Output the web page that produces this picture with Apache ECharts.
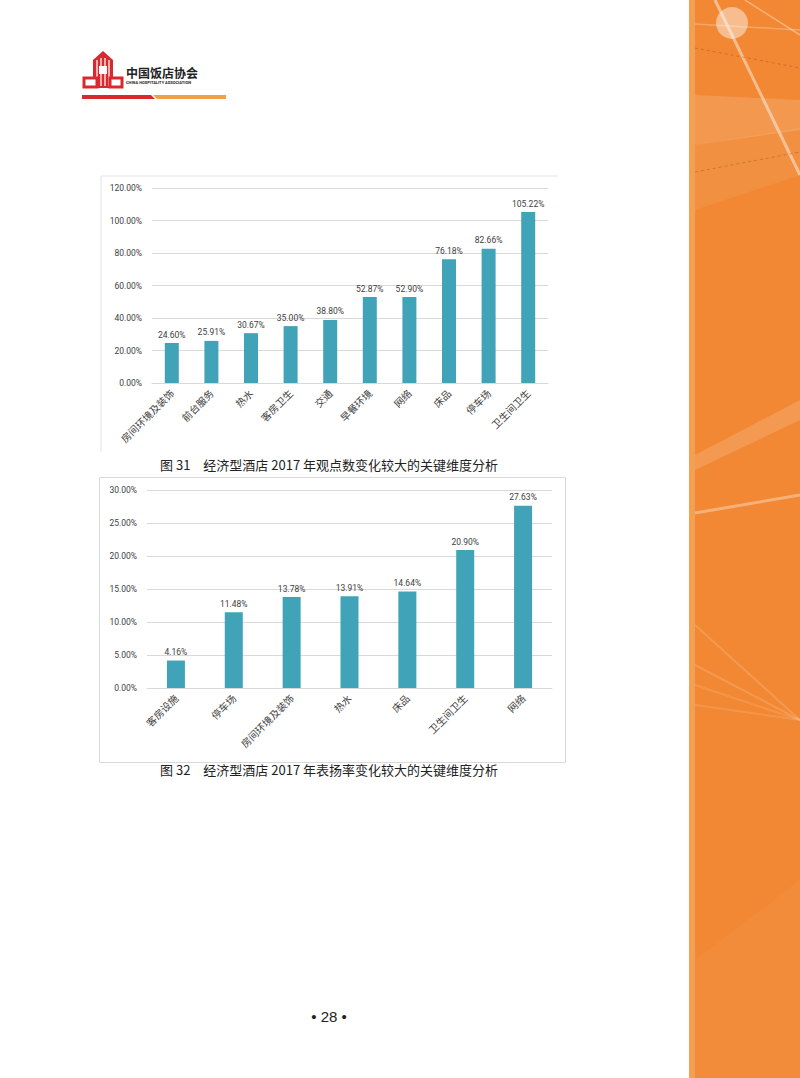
<!DOCTYPE html>
<html>
<head>
<meta charset="utf-8">
<script src="https://cdn.jsdelivr.net/npm/echarts@6/dist/echarts.min.js"></script>
<style>
  html, body { margin: 0; padding: 0; background: #fff; }
  #page { width: 800px; height: 1078px; }
</style>
</head>
<body>
<div id="page"></div>
<script>
// 图 31 数据
var cats31 = ['房间环境及装饰', '前台服务', '热水', '客房卫生', '交通', '早餐环境', '网络', '床品', '停车场', '卫生间卫生'];
var vals31 = [24.60, 25.91, 30.67, 35.00, 38.80, 52.87, 52.90, 76.18, 82.66, 105.22];
var yMax31 = 120, yStep31 = 20;

// 图 32 数据
var cats32 = ['客房设施', '停车场', '房间环境及装饰', '热水', '床品', '卫生间卫生', '网络'];
var vals32 = [4.16, 11.48, 13.78, 13.91, 14.64, 20.90, 27.63];
var yMax32 = 30, yStep32 = 5;

var caption31 = '图 31　经济型酒店 2017 年观点数变化较大的关键维度分析';
var caption32 = '图 32　经济型酒店 2017 年表扬率变化较大的关键维度分析';

var barColor = '#41a3b8';
var textColor = '#404040';
var gridColor = '#d9d9d9';
var cjk = '"Noto Sans CJK SC", "Noto Sans", sans-serif';

function pct(v) { return v.toFixed(2) + '%'; }

function yAxisOf(idx, max, step) {
  return {
    type: 'value', gridIndex: idx, min: 0, max: max, interval: step,
    axisLine: { show: false }, axisTick: { show: false },
    splitLine: { lineStyle: { color: gridColor, width: 1 } },
    axisLabel: { formatter: pct, color: textColor, fontSize: 8.5, fontFamily: 'Roboto, sans-serif', margin: 10 }
  };
}

function xAxisOf(idx, cats) {
  return {
    type: 'category', gridIndex: idx, data: cats,
    axisLine: { lineStyle: { color: gridColor } }, axisTick: { show: false },
    axisLabel: { rotate: 45, interval: 0, color: textColor, fontSize: 10, fontFamily: cjk, margin: 8 }
  };
}

function barsOf(idx, vals, w) {
  return {
    type: 'bar', xAxisIndex: idx, yAxisIndex: idx, data: vals, barWidth: w,
    itemStyle: { color: barColor },
    label: { show: true, position: 'top', formatter: function (p) { return pct(p.value); },
      color: textColor, fontSize: 8.5, fontFamily: 'Roboto, sans-serif', distance: 4 },
    silent: true
  };
}

// 页面装饰：页眉标志、右侧橙色条、图框、图题、页码
var decor = [
  // 右侧橙色条
  { type: 'rect', shape: { x: 689, y: 0, width: 111, height: 1078 }, style: { fill: '#f3a052' } },
  { type: 'rect', shape: { x: 695, y: 0, width: 105, height: 1078 }, style: { fill: '#f28833' } },
  { type: 'polygon', shape: { points: [[695, 95], [800, 100], [800, 130], [695, 145]] }, style: { fill: 'rgba(255,255,255,0.14)' } },
  { type: 'polygon', shape: { points: [[695, 145], [800, 128], [800, 175], [695, 210]] }, style: { fill: 'rgba(255,255,255,0.07)' } },
  { type: 'polygon', shape: { points: [[695, 455], [800, 400], [800, 420], [695, 470]] }, style: { fill: 'rgba(255,255,255,0.15)' } },
  { type: 'polygon', shape: { points: [[695, 960], [800, 880], [800, 1078], [695, 1078]] }, style: { fill: 'rgba(255,255,255,0.04)' } },
  { type: 'line', shape: { x1: 715, y1: 0, x2: 800, y2: 175 }, style: { stroke: 'rgba(255,255,255,0.45)', lineWidth: 3 } },
  { type: 'line', shape: { x1: 745, y1: 0, x2: 800, y2: 35 }, style: { stroke: 'rgba(255,255,255,0.35)', lineWidth: 1.5 } },
  { type: 'line', shape: { x1: 695, y1: 24, x2: 800, y2: 30 }, style: { stroke: 'rgba(255,255,255,0.25)', lineWidth: 1.5 } },
  { type: 'line', shape: { x1: 695, y1: 513, x2: 800, y2: 495 }, style: { stroke: 'rgba(255,255,255,0.35)', lineWidth: 3 } },
  { type: 'line', shape: { x1: 695, y1: 48, x2: 800, y2: 68 }, style: { stroke: 'rgba(120,60,20,0.4)', lineWidth: 0.8, lineDash: [3, 3] } },
  { type: 'line', shape: { x1: 695, y1: 172, x2: 800, y2: 152 }, style: { stroke: 'rgba(120,60,20,0.4)', lineWidth: 0.8, lineDash: [3, 3] } },
  { type: 'line', shape: { x1: 695, y1: 625, x2: 800, y2: 720 }, style: { stroke: 'rgba(255,255,255,0.15)', lineWidth: 2 } },
  { type: 'line', shape: { x1: 695, y1: 665, x2: 800, y2: 720 }, style: { stroke: 'rgba(255,255,255,0.15)', lineWidth: 2 } },
  { type: 'line', shape: { x1: 695, y1: 685, x2: 800, y2: 720 }, style: { stroke: 'rgba(255,255,255,0.12)', lineWidth: 2 } },
  { type: 'line', shape: { x1: 695, y1: 705, x2: 800, y2: 720 }, style: { stroke: 'rgba(255,255,255,0.12)', lineWidth: 2 } },
  { type: 'circle', shape: { cx: 732, cy: 23, r: 16 }, style: { fill: 'rgba(255,255,255,0.45)' } },

  // 页眉标志：楼形 + CHA
  { type: 'polygon', shape: { points: [[93, 60], [103, 51], [113, 60], [113, 88], [93, 88]] }, style: { fill: '#d9282f' } },
  { type: 'rect', shape: { x: 96, y: 60, width: 2, height: 26 }, style: { fill: '#f7b0b0' } },
  { type: 'rect', shape: { x: 100, y: 58, width: 2, height: 28 }, style: { fill: '#f7b0b0' } },
  { type: 'rect', shape: { x: 104, y: 58, width: 2, height: 28 }, style: { fill: '#f7b0b0' } },
  { type: 'rect', shape: { x: 108, y: 60, width: 2, height: 26 }, style: { fill: '#f7b0b0' } },
  { type: 'rect', shape: { x: 99, y: 66, width: 8, height: 8 }, style: { fill: '#fff' } },
  { type: 'rect', shape: { x: 84, y: 78, width: 13, height: 9 }, style: { fill: '#fff', stroke: '#d9282f', lineWidth: 3 } },
  { type: 'rect', shape: { x: 110, y: 78, width: 12, height: 9 }, style: { fill: '#fff', stroke: '#d9282f', lineWidth: 3 } },
  { type: 'text', x: 126, y: 66, style: { text: '中国饭店协会', fill: '#222', fontSize: 12, fontWeight: 'bold', fontFamily: cjk } },
  { type: 'text', x: 126, y: 80, style: { text: 'CHINA HOSPITALITY ASSOCIATION', fill: '#222', fontSize: 4, fontWeight: 'bold', fontFamily: 'Roboto, sans-serif' } },
  { type: 'polygon', shape: { points: [[82, 95], [151, 95], [155, 99], [82, 99]] }, style: { fill: '#d9282f' } },
  { type: 'polygon', shape: { points: [[153, 95], [226, 95], [226, 99], [157, 99]] }, style: { fill: '#f0a046' } },

  // 图框
  { type: 'polyline', shape: { points: [[101, 452], [101, 176], [558, 176]] }, style: { stroke: '#e3e3e3', lineWidth: 1, fill: 'none' } },
  { type: 'rect', shape: { x: 99.5, y: 477.5, width: 466, height: 285 }, style: { stroke: '#d9d9d9', lineWidth: 1, fill: 'none' } },

  // 图题
  { type: 'text', x: 160, y: 458, style: { text: caption31, fill: '#222', fontSize: 13, fontFamily: cjk } },
  { type: 'text', x: 160, y: 763, style: { text: caption32, fill: '#222', fontSize: 13, fontFamily: cjk } },

  // 页码
  { type: 'text', x: 329, y: 1016, style: { text: '• 28 •', fill: '#222', fontSize: 15, fontFamily: 'Liberation Sans, sans-serif', align: 'center', verticalAlign: 'middle' } }
];

var chart = echarts.init(document.getElementById('page'), null, { renderer: 'svg', width: 800, height: 1078 });

chart.setOption({
  animation: false,
  backgroundColor: '#fff',
  grid: [
    { left: 152, top: 188, width: 396, height: 195 },
    { left: 147, top: 490, width: 405, height: 198 }
  ],
  xAxis: [xAxisOf(0, cats31), xAxisOf(1, cats32)],
  yAxis: [yAxisOf(0, yMax31, yStep31), yAxisOf(1, yMax32, yStep32)],
  series: [barsOf(0, vals31, 14), barsOf(1, vals32, 18)],
  graphic: decor
});
</script>
</body>
</html>
